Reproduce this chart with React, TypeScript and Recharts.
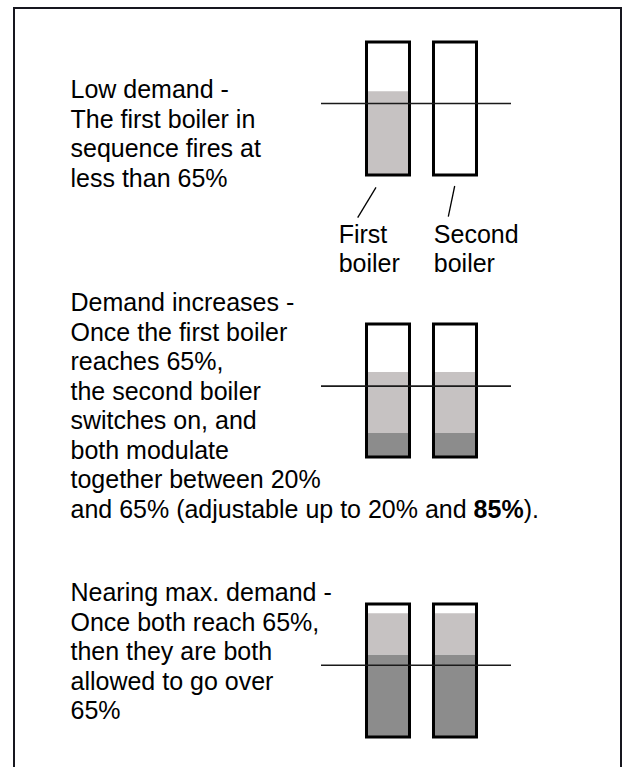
import React from 'react';
import { ComposedChart, Bar, XAxis, YAxis, ReferenceLine } from 'recharts';

// ---- data ----
const boilerNames = ['First boiler', 'Second boiler'];
const boilerX = [1, 2];
const stageTitles = ['Low demand -', 'Demand increases -', 'Nearing max. demand -'];
// top of the dark-grey (base modulation) band, % of boiler box
const baseLevel = [
  [0, 0],
  [18, 18],
  [62, 62],
];
// top of the light-grey (firing) band, % of boiler box
const firingLevel = [
  [63, 0],
  [64, 64],
  [93, 93],
];
// the 65% switching threshold line, % of boiler box
const thresholdLevel = [53.8, 53.3, 54.0];
const boxCapacity = 100;

const stageTexts: React.ReactNode[][] = [
  ['Low demand -', 'The first boiler in', 'sequence fires at', 'less than 65%'],
  [
    'Demand increases -',
    'Once the first boiler',
    'reaches 65%,',
    'the second boiler',
    'switches on, and',
    'both modulate',
    'together between 20%',
    <>
      and 65% (adjustable up to 20% and <b>85%</b>).
    </>,
  ],
  ['Nearing max. demand -', 'Once both reach 65%,', 'then they are both', 'allowed to go over', '65%'],
];

// ---- layout ----
const FONT = '"Liberation Sans", Arial, Helvetica, sans-serif';
const chartLeft = 320.7;
const chartTops = [38.2, 320.2, 599.8];
const textTops = [75, 288, 578.3];
const CW = 190;
const CH = 141;
const MARGIN = { top: 4, bottom: 4, left: 0, right: 0 };
const X_DOMAIN: [number, number] = [0, 2.836];
const BAR = 43;

function stageData(i: number) {
  return boilerX.map((x, j) => ({
    x,
    name: boilerNames[j],
    base: baseLevel[i][j],
    firing: Math.max(0, firingLevel[i][j] - baseLevel[i][j]),
    capacity: boxCapacity,
  }));
}

function Stage({ i }: { i: number }) {
  const data = stageData(i);
  const pos: React.CSSProperties = { position: 'absolute', left: chartLeft, top: chartTops[i] };
  return (
    <>
      <div style={pos}>
        <ComposedChart width={CW} height={CH} data={data} margin={MARGIN}>
          <XAxis type="number" dataKey="x" domain={X_DOMAIN} hide />
          <YAxis type="number" domain={[0, boxCapacity]} hide />
          <Bar dataKey="base" stackId="f" fill="#8c8c8c" barSize={BAR} isAnimationActive={false} />
          <Bar dataKey="firing" stackId="f" fill="#c6c2c2" barSize={BAR} isAnimationActive={false} />
        </ComposedChart>
      </div>
      <div style={pos}>
        <ComposedChart width={CW} height={CH} data={data} margin={MARGIN}>
          <XAxis type="number" dataKey="x" domain={X_DOMAIN} hide />
          <YAxis type="number" domain={[0, boxCapacity]} hide />
          <Bar
            dataKey="capacity"
            fill="none"
            stroke="#000"
            strokeWidth={3}
            barSize={BAR}
            isAnimationActive={false}
          />
          <ReferenceLine y={thresholdLevel[i]} stroke="#1a1a1a" strokeWidth={1.6} />
        </ComposedChart>
      </div>
      <div
        style={{
          position: 'absolute',
          left: 70.5,
          top: textTops[i],
          fontSize: 25,
          lineHeight: '29.5px',
          whiteSpace: 'nowrap',
          color: '#000',
        }}
      >
        {stageTexts[i].map((t, k) => (
          <div key={k}>{t}</div>
        ))}
      </div>
    </>
  );
}

export default function App() {
  const labelStyle: React.CSSProperties = {
    position: 'absolute',
    top: 220,
    fontSize: 25,
    lineHeight: '28.8px',
    whiteSpace: 'nowrap',
    color: '#000',
  };
  return (
    <div
      style={{
        position: 'absolute',
        left: 0,
        top: 0,
        width: 627,
        height: 767,
        overflow: 'hidden',
        background: '#fff',
        fontFamily: FONT,
      }}
      title={stageTitles.join(' ')}
    >
      <div
        style={{
          position: 'absolute',
          left: 13,
          top: 7,
          width: 609,
          height: 820,
          border: '2.5px solid #17171f',
          boxSizing: 'border-box',
        }}
      />
      {[0, 1, 2].map((i) => (
        <Stage key={i} i={i} />
      ))}
      <svg
        width={627}
        height={767}
        style={{ position: 'absolute', left: 0, top: 0, pointerEvents: 'none' }}
      >
        <line x1={376} y1={187.3} x2={357.7} y2={217.7} stroke="#000" strokeWidth={1.3} />
        <line x1={454.7} y1={186} x2={448.3} y2={216.7} stroke="#000" strokeWidth={1.3} />
      </svg>
      <div style={{ ...labelStyle, left: 338.7 }}>
        First
        <br />
        boiler
      </div>
      <div style={{ ...labelStyle, left: 433.8 }}>
        Second
        <br />
        boiler
      </div>
    </div>
  );
}
